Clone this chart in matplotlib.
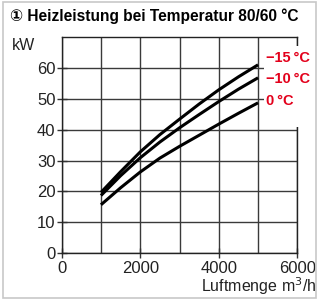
import matplotlib

matplotlib.use("Agg")
import matplotlib.pyplot as plt
from matplotlib.patches import Rectangle

# Werte (alle 500 m3/h)
luftmenge = [1000, 1500, 2000, 2500, 3000, 3500, 4000, 4500, 5000]
leistung_m15 = [19.7, 26.4, 32.8, 38.4, 43.4, 48.3, 52.9, 57.1, 61.0]
leistung_m10 = [18.7, 25.1, 30.9, 36.0, 40.6, 44.9, 49.1, 53.1, 56.8]
leistung_0 = [15.7, 21.2, 26.3, 30.8, 34.6, 38.2, 41.8, 45.3, 48.7]
kurven_labels = ["\u221215\u2009°C", "\u221210\u2009°C", "0\u2009°C"]
label_y = [63.3, 56.4, 49.2]

RED = "#e3001b"
FONT = ["Liberation Sans", "DejaVu Sans"]

fig = plt.figure(figsize=(3.17, 3.0), dpi=100)
ax = fig.add_axes([0.1946, 0.1557, 0.7433, 0.721])

for y in (leistung_m15, leistung_m10, leistung_0):
    ax.plot(luftmenge, y, color="black", lw=2.2, solid_capstyle="butt",
            solid_joinstyle="round", zorder=3)

ax.set_xlim(0, 6000)
ax.set_ylim(0, 70)
ax.set_xticks([0, 2000, 4000, 6000])
ax.set_xticks(range(0, 6001, 1000), minor=True)
ax.set_yticks(range(0, 61, 10))
ax.grid(True, which="both", axis="x", color="#3a3a3a", lw=1.0, zorder=1)
ax.grid(True, axis="y", color="#3a3a3a", lw=1.0, zorder=1)
ax.set_axisbelow(True)
ax.tick_params(which="both", direction="inout", length=7, width=1, color="#333333",
               labelsize=12, pad=1)
ax.tick_params(axis="x", pad=2)
ax.tick_params(axis="x", which="minor", length=0)
for lab in ax.get_xticklabels() + ax.get_yticklabels():
    lab.set_family(FONT)
    lab.set_color("#222222")
for s in ax.spines.values():
    s.set_color("#222222")
    s.set_linewidth(1.0)

# weisser Hintergrund hinter den Kurvenbeschriftungen
ax.add_patch(Rectangle((5150, 40.8), 1100, 26.3, facecolor="white", edgecolor="none",
                       clip_on=False, zorder=4))
for txt, yy in zip(kurven_labels, label_y):
    ax.text(5200, yy, txt, color=RED, fontsize=10.5, fontweight="bold", family=FONT,
            ha="left", va="center", zorder=5)

fig.text(0.03, 0.945, "\u2460 Heizleistung bei Temperatur 80/60 °C", fontsize=11.2,
         fontweight="bold", family=FONT, ha="left", va="center")
fig.text(0.036, 0.85, "kW", fontsize=11.5, family=FONT, color="#222222", va="center")
fig.text(0.998, 0.045, "Luftmenge m$^3$/h", fontsize=11.5, family=FONT, color="#222222",
         ha="right", va="center")

fig.patches.append(Rectangle((0.008, 0.008), 0.99, 0.985, transform=fig.transFigure,
                             fill=False, edgecolor="#c8c8c8", lw=1.2))

fig.savefig("out.png", dpi=100)
